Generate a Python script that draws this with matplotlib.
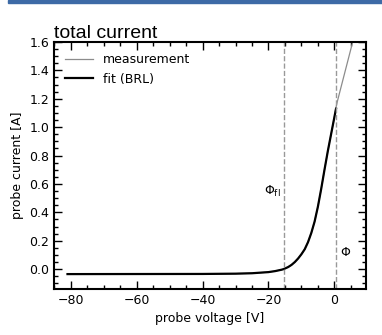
import matplotlib
matplotlib.use("Agg")
import matplotlib.pyplot as plt
from matplotlib.ticker import MultipleLocator
from matplotlib.patches import Rectangle

# data
fit_v = [-81, -40, -30, -25, -20, -18, -16, -15.4, -14, -13, -12, -11, -10, -9, -8,
         -7, -6, -5, -4, -3, -2, -1, 0, 0.5]
fit_i = [-0.035, -0.034, -0.032, -0.029, -0.021, -0.014, -0.004, 0.0, 0.015, 0.03,
         0.05, 0.075, 0.105, 0.14, 0.19, 0.255, 0.335, 0.44, 0.565, 0.70, 0.83, 0.95,
         1.07, 1.13]
meas_v = [-81, -40, -30, -25, -20, -18, -16, -15.4, -14, -13, -12, -11, -10, -9, -8,
          -7, -6, -5, -4, -3, -2, -1, 0, 0.5, 1, 2, 3, 4, 5, 6]
meas_i = [-0.035, -0.034, -0.032, -0.029, -0.021, -0.014, -0.004, 0.0, 0.015, 0.03,
          0.05, 0.075, 0.105, 0.14, 0.19, 0.255, 0.335, 0.44, 0.565, 0.70, 0.83, 0.95,
          1.07, 1.14, 1.19, 1.28, 1.37, 1.46, 1.55, 1.64]
phi_fl = -15.4
phi = 0.6
xlim = (-85.1, 9.6)
ylim = (-0.14, 1.6)

plt.rcParams['font.family'] = ['DejaVu Sans']
fig = plt.figure(figsize=(3.82, 3.35), dpi=100)
fig.patches.append(Rectangle((8 / 382, 1 - 3 / 335), 1, 3 / 335,
                             transform=fig.transFigure, color='#3d6aa6', zorder=0))
ax = fig.add_axes([54 / 382, 1 - 289 / 335, (366 - 54) / 382, (289 - 42) / 335])

ax.plot(meas_v, meas_i, color='#8c8c8c', lw=0.9, label='measurement')
ax.plot(fit_v, fit_i, color='black', lw=1.6, label='fit (BRL)')
ax.axvline(phi_fl, color='#999999', ls='--', lw=1.0)
ax.axvline(phi, color='#999999', ls='--', lw=1.0)
ax.text(phi_fl - 1.0, 0.55, r'$\Phi_{\rm fl}$', ha='right', va='center', fontsize=9)
ax.text(phi + 1.0, 0.12, r'$\Phi$', ha='left', va='center', fontsize=9)

ax.set_xlim(*xlim)
ax.set_ylim(*ylim)
ax.xaxis.set_major_locator(MultipleLocator(20))
ax.xaxis.set_minor_locator(MultipleLocator(5))
ax.yaxis.set_major_locator(MultipleLocator(0.2))
ax.yaxis.set_minor_locator(MultipleLocator(0.05))
ax.tick_params(which='both', direction='in', top=True, right=True, labelsize=9)
ax.tick_params(which='major', length=6, width=1)
ax.tick_params(which='minor', length=3, width=1)
for s in ax.spines.values():
    s.set_linewidth(1.5)
ax.set_xlabel('probe voltage [V]', fontsize=9)
ax.set_ylabel('probe current [A]', fontsize=9)
ax.set_title('total current', loc='left', fontsize=14, family='Liberation Sans', pad=2)
ax.legend(loc='upper left', frameon=False, fontsize=9, handlelength=2.2)

fig.savefig('out.png', dpi=100)
